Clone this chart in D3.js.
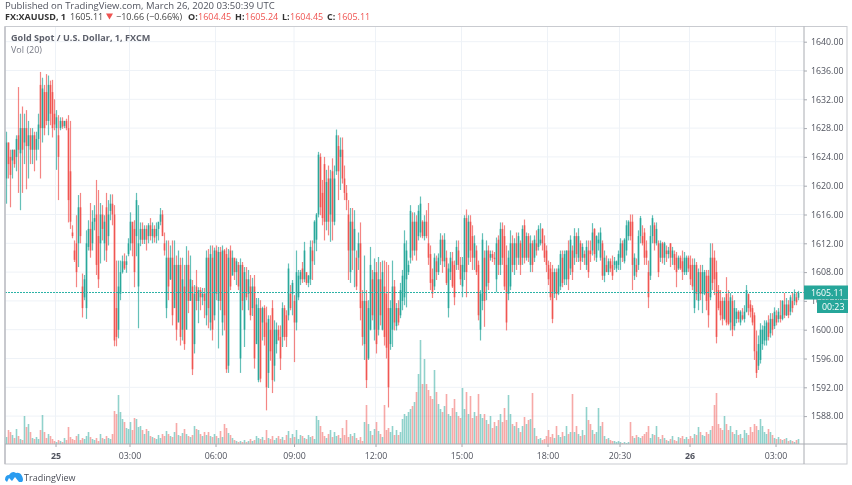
<!DOCTYPE html>
<html>
<head>
<meta charset="utf-8">
<script src="https://d3js.org/d3.v7.min.js"></script>
<style>
  html, body { margin: 0; padding: 0; background: #fff; }
  svg { display: block; }
  text { font-family: "Open Sans", sans-serif; }
</style>
</head>
<body>
<svg id="chart" width="852" height="485"></svg>
<script>
const highs = [
1627.5,1626,1625,1625,1625,1627,1633.7,1630,1631,1630,1630.5,1629,1628,1628,1627.5,1627.5,1630,1635.8,1635,1634,
1635.5,1635.3,1634.6,1634.7,1632,1630.5,1629.8,1629.5,1629.5,1629,1629.3,1629.8,1629,1614.5,1612.4,1615.9,1618.7,1619,1607.8,1607.6,
1613.8,1615.2,1617.6,1616.6,1617.3,1620.8,1619.4,1617.6,1617.3,1615.9,1619,1618,1618.8,1618.8,1617.3,1609.6,1609.6,1609.6,1610.3,1610.6,
1610.3,1612.7,1616.3,1614.5,1615.2,1619,1617.3,1614.9,1614.9,1614.5,1614.5,1614.8,1615.5,1614.9,1614.5,1614.9,1614.5,1616.9,1616.6,1613.5,
1612.4,1612.4,1611.7,1612.4,1612.4,1610.3,1611,1610,1610,1609,1611.6,1611,1610.3,1606.9,1606.2,1608.3,1605.9,1605.9,1605.8,1605.8,
1611,1611.2,1611.7,1611.7,1611.4,1611.7,1611.5,1611.5,1611.7,1611.2,1611.4,1611.2,1611.7,1611,1609.9,1609.9,1609.4,1609.9,1609.4,1608.7,
1608.7,1608.3,1607.6,1607.2,1607.6,1604.4,1604.4,1604.1,1603.2,1603.4,1603.2,1602,1602,1604.1,1601.3,1601,1600.6,1600.6,1603.8,1603.4,
1602.7,1609.2,1606.2,1606.9,1604.8,1611,1608.3,1608.3,1609.4,1612.2,1607.6,1607.6,1612.4,1612.4,1615.2,1616.2,1624.7,1624.5,1620.8,1624,
1622.2,1622.8,1622.2,1623.8,1622.8,1627.8,1627,1626.7,1626.7,1622.8,1620.1,1618,1616.9,1616.9,1616.6,1611,1613.5,1614.9,1605.5,1610.3,
1605.5,1604.1,1611.5,1608.3,1609.9,1609.4,1610.1,1609.4,1609.6,1609.6,1609.4,1609,1604.1,1609.6,1606.9,1603.7,1604.1,1606.5,1608.3,1613.8,
1612.4,1609.6,1617.3,1616.3,1616.3,1615.9,1617.3,1618.5,1615.2,1615.9,1616.6,1617.6,1611.7,1608.5,1610.6,1610.3,1610.6,1613.4,1613.1,1613.4,
1611,1609.2,1610.8,1610.8,1609.6,1612.4,1612.4,1610.1,1610.1,1615.9,1616.7,1615.9,1615.9,1614.5,1613.1,1611.7,1609.6,1605.5,1613.4,1611,
1612.4,1611.7,1611,1611,1610.8,1612.8,1613.1,1614.9,1614.9,1614.5,1611.7,1611,1613.8,1613.1,1612.7,1613.5,1613.5,1612.4,1614.5,1615.3,
1613.5,1613.4,1613.1,1612.4,1613.1,1613.8,1614.5,1614.8,1614.1,1613.1,1611.7,1609.6,1609.4,1609,1608.5,1608.5,1609,1611,1611,1611,
1611,1612.4,1613.1,1611.7,1614.1,1613.5,1614.1,1612.4,1612,1611,1612.4,1612.4,1612.4,1614.8,1614.1,1613.1,1613.5,1614.2,1612.4,1611,
1610.3,1609.9,1609.9,1610.3,1610.1,1609.6,1611,1612.7,1612.4,1612.7,1615.2,1615.2,1616,1616,1610.6,1609.9,1613.8,1615.8,1614.5,1614.1,
1612.4,1609.6,1614.5,1615.9,1614.9,1614.9,1612.4,1612.4,1612.2,1612.2,1611.7,1611.5,1612,1611.5,1611,1610.8,1610.3,1610.3,1611,1610.8,
1610.3,1610.3,1610.3,1609.9,1609.9,1609.4,1608.5,1609,1609,1608.3,1608.3,1608.3,1612,1612,1611,1609.6,1606.2,1605.5,1604.5,1604.5,
1607.3,1605.5,1605.1,1604.8,1604.1,1603,1602.7,1602.7,1603,1603.4,1606.2,1604.8,1604.1,1603.4,1602.4,1599.9,1599.2,1600.9,1600.6,1601.3,
1601.3,1602,1602.3,1602.3,1603.1,1602.7,1603,1604.1,1604.1,1605.1,1604.4,1604.1,1604.8,1605.2,1605.6,1605.2,1605.4
]
const lows = [
1617.5,1621,1617,1621,1622.5,1622,1619,1616.6,1619,1623,1619.5,1621,1623,1623,1622,1623.5,1625,1621,1626,1627,
1628.4,1627,1628.4,1626.7,1627.7,1622.2,1618,1627.7,1627.9,1628,1627.7,1614.9,1614,1612.7,1609.4,1605.9,1608.7,1612,1601.7,1604.1,
1601.5,1611,1610,1611,1613.8,1607.6,1605.8,1609.2,1612.4,1609.6,1609.4,1611.7,1615.2,1614.5,1597.7,1597.7,1598.8,1604.1,1607.8,1608.3,
1607.9,1610.2,1611,1610.2,1605.9,1610.2,1600.2,1611.6,1611.9,1611.9,1611,1612,1612.4,1612,1612.1,1612,1612.4,1614.5,1613.5,1610.3,
1601.6,1604.1,1606.9,1600.6,1604.1,1598.5,1601.3,1597.8,1598.5,1597.2,1604.1,1602.3,1604.1,1593.7,1596.7,1602.7,1600.9,1602.7,1603.4,1601.6,
1600.6,1600.2,1599.9,1598.5,1601.3,1604.1,1597.4,1602.7,1599.2,1599.9,1594,1594,1605.5,1607.6,1606.9,1606.2,1605.5,1594,1602.7,1597.6,
1604.1,1602.7,1601.3,1601.9,1594.6,1598.5,1592.7,1592.7,1598.5,1597.8,1588.8,1591.9,1595.7,1591.2,1592.8,1596.7,1599.2,1594.4,1597.6,1598.5,
1597.6,1601.3,1602.7,1602,1595.5,1599.9,1604.1,1606.2,1606.5,1606.6,1606.2,1605.9,1606.2,1606.9,1609,1610.9,1615.6,1615.9,1614.5,1612.4,
1613.8,1613.1,1612.2,1612.4,1614.5,1621.5,1618,1619.4,1620.3,1618,1616.6,1606.9,1606.5,1608.3,1605.9,1605.5,1608.3,1601.3,1597.8,1595.8,
1591.9,1595.8,1599.9,1601.3,1598.5,1596.7,1599.2,1600.6,1599.9,1597.8,1596,1589.2,1597.2,1597.6,1599.9,1599.9,1600.6,1601.6,1602.7,1603.4,
1603.1,1607.6,1609.2,1609.6,1610.3,1609.6,1612.4,1612.8,1612.7,1612.4,1612.7,1609,1605.5,1604.4,1605.5,1606.9,1607.6,1609,1607.9,1608.7,
1606.2,1601.7,1606.9,1605.8,1603.4,1608.3,1608.3,1606.2,1604.5,1606.9,1604.5,1609,1609.4,1608.3,1608.3,1607.6,1601.3,1598.5,1602.7,1600.4,
1604.1,1605.5,1609.6,1609.4,1609,1605.2,1607.6,1607.6,1609,1605.5,1599.9,1604.1,1605.5,1608,1607.6,1608.3,1609,1607.6,1609,1609.2,
1609.6,1609.4,1608,1608,1609.4,1610.3,1611,1611.7,1611,1609.4,1608,1606.2,1604.1,1600.9,1604.4,1604.1,1604.8,1605.5,1605.9,1606.2,
1606.2,1605.5,1607.6,1606.9,1609,1609.4,1609.4,1608.3,1609.4,1609,1608.3,1607.2,1609.4,1610.3,1609.6,1609.4,1611,1609.6,1606.9,1606.6,
1608,1607.6,1608,1606.9,1608.3,1608,1608.3,1608.3,1609.4,1609.2,1610.3,1612.4,1612.4,1605.5,1606.9,1607.3,1608.3,1612,1611.7,1609,
1609,1603,1606.9,1612,1611,1611.7,1607.3,1609.4,1609.2,1609,1609.4,1609.9,1608.7,1609,1608.3,1605.9,1608.3,1608.3,1606.9,1607.6,
1607.6,1608,1606.2,1605.5,1602.3,1604.1,1602.7,1604.1,1602.3,1604.8,1602.7,1600.3,1604.1,1605.5,1604.8,1598.1,1602.7,1601.3,1600.6,1601.3,
1600.6,1600.6,1599.9,1599.1,1599.9,1600.9,1601,1600.6,1601.3,1601,1602.4,1602,1601.7,1600.6,1595.8,1593.3,1594.4,1595.3,1597.2,1597.8,
1597.8,1598.5,1598.9,1599.2,1600.1,1600.6,1601,1601,1601.3,1601.6,1601.9,1601.6,1602,1602.4,1603.4,1603.4,1604.1
]
const opens = [
1621,1626,1624,1623.5,1625,1624,1627,1624.5,1628,1626,1628,1625.5,1627,1625,1627,1625,1626.5,1634,1628,1633,
1633,1629,1634,1633,1630,1628,1627,1628,1629,1628.3,1629,1628,1622,1613.5,1611,1612,1612,1617,1606,1604.5,
1603,1611.5,1614,1612,1615,1616,1613,1612,1616,1612,1617,1613,1616.5,1617.5,1616,1603,1600,1605,1608,1609.5,
1609,1610.5,1612,1615,1614,1613,1606,1612.5,1614,1612.5,1614,1613,1614.5,1613,1614,1613,1614,1615,1616,1612,
1603,1610,1607,1610,1603,1609,1601,1609,1600,1606,1600,1609,1604,1606,1598,1606,1604,1605.5,1604.5,1605,
1602,1610,1601,1610,1602,1611,1604,1610.8,1601,1611,1610.5,1595,1611,1607.5,1610,1608,1609,1596,1609,1600,
1607,1605,1606,1603,1606,1598,1593,1603,1601,1603,1601,1594,1600,1603,1595,1598,1600,1599,1599,1603,
1602,1602,1605,1605,1604,1601,1604.5,1607,1608.5,1607,1608,1606.5,1607,1611,1612,1612.5,1616,1624,1619,1623,
1615,1621,1616,1622,1615,1622,1625.5,1624,1625,1621,1619,1616,1608,1615,1611,1610,1610,1612,1604,1598,
1604,1596,1600,1607,1600,1608,1600,1607,1600,1606,1605,1603,1598,1600,1606,1600.5,1603,1602,1604,1604.5,
1607,1608,1610,1615,1611,1615,1613,1613.5,1615,1613,1615,1612,1610.5,1607,1606,1609.5,1608,1610,1612.5,1609.5,
1610,1603,1608,1609.5,1609,1609,1611,1609,1606,1608,1615.5,1610,1615,1613,1610,1611,1609,1600,1604,1610,
1606,1611,1610,1610.5,1610,1607,1612.5,1609,1614,1613,1609,1605,1606,1612,1609,1612,1610,1612,1610,1614.5,
1610,1613,1609,1612,1610,1612,1611.5,1612,1614,1612,1611,1609,1608.5,1608,1605,1608,1605,1606,1610,1607,
1607,1611,1608.5,1611,1610,1613,1610,1612,1610,1610.5,1609,1611,1611,1611,1614,1610,1612,1610,1612,1607.5,
1609,1608,1609.5,1609,1609,1608.5,1609,1610,1612,1609.5,1611,1613,1615,1615,1607.5,1609,1609,1613,1613,1613.5,
1611,1608,1607.5,1613,1614.5,1612,1612,1610,1612,1610,1611,1610.5,1612,1610,1610.5,1610,1608.5,1610,1609.5,1608,
1608,1610,1609,1609,1603,1609,1604,1608,1605,1605,1607.5,1607.5,1604.5,1610,1610,1608,1605.5,1604,1604,1601.5,
1605,1604,1601,1604,1600.5,1601.5,1602.5,1601,1602,1601.5,1602.5,1605,1603.5,1603,1602,1597,1595,1595.8,1598,1598.5,
1598.5,1601,1599.5,1601.5,1600.5,1602,1601.5,1602,1601.5,1603.5,1602,1603.5,1602.5,1604,1604,1604.5,1604.45
]
const closes = [
1626,1623,1621.5,1625,1623,1626.5,1625,1628,1625,1628,1625.5,1627,1625,1627,1625,1626.5,1628.5,1628,1633.5,1628,
1629,1634,1630,1628,1628.5,1629.5,1624,1629,1628.2,1629,1628,1618,1615,1613,1609.7,1608,1617,1613,1603,1607,
1612,1614,1611,1615,1615.5,1609,1607,1616,1614,1615,1611,1616,1617.5,1616,1598.5,1599,1606,1608,1609.5,1608.5,
1609.5,1612,1615,1612,1608,1618,1612,1614,1612.5,1614,1612.5,1614.5,1613,1614,1612.8,1614,1615,1616,1613,1611,
1610,1606,1610,1602,1609,1600,1609,1599,1607,1598,1609,1604,1607,1594.5,1605,1604,1605.5,1604.5,1605,1604,
1610,1603,1610.5,1600,1611,1605,1610.8,1604,1611,1602,1594.5,1610,1606,1610,1608,1609.5,1606,1609,1604,1608,
1604.5,1607,1602,1606,1596,1603.5,1603,1593.2,1603,1599,1592,1601.5,1597,1593,1600,1600,1598.5,1596,1603,1599,
1599,1608.5,1603,1606.5,1601,1608,1607.5,1608,1607,1611,1606.5,1607.5,1611.5,1609.5,1615,1616,1624.3,1617,1615.5,1615,
1620.5,1615,1621,1615,1621,1627,1622,1625,1621,1619,1618,1611,1615,1611,1614,1606,1612,1603,1599,1604,
1593,1603,1609,1602,1608,1598,1607,1602,1608,1599,1597.5,1592,1603,1606,1601,1603,1601,1605.5,1607.5,1612,
1611,1609,1616.5,1611,1615,1611,1616.5,1617.5,1613,1615,1613,1610,1606.5,1605,1610,1608,1610,1612.5,1609.5,1612.5,
1606.5,1608.5,1610,1606,1604.5,1611.5,1609,1607,1609,1615.5,1608,1615,1611,1610,1612,1608,1602,1605,1612.5,1604,
1611,1606.5,1610.5,1610,1609.8,1612,1609,1614,1610,1606,1601,1610,1612,1609,1612,1610,1613,1609,1614,1610,
1613,1610,1612,1609,1612.5,1611,1614,1612.5,1612,1610,1609,1607,1604.5,1601.5,1608,1605,1608.5,1610.5,1606.5,1610.5,
1611,1607,1612.5,1608,1613,1610.5,1613,1609.5,1611.5,1610,1611.5,1608,1610.5,1613.5,1610.5,1613,1612.5,1613.5,1607.5,1610,
1608,1609.5,1608.5,1607.5,1609.5,1609.5,1610.5,1612,1610,1612.5,1614.5,1615,1613,1609,1610,1608,1613,1615.5,1612,1610,
1610,1604.5,1613,1615.5,1612,1614,1608,1612,1610,1612,1610.5,1611,1610,1611,1609,1608,1610,1608.5,1608,1610,
1610,1608.5,1607,1606,1609,1605,1608,1605,1608,1608,1604,1602,1610,1606.5,1607,1599,1603,1602,1601.5,1604,
1601,1600.8,1604.5,1600,1603,1602.5,1601.5,1602.5,1601.5,1602.5,1605.5,1603,1602.5,1601,1597,1594,1598,1600,1600,1600.5,
1601,1599,1601.5,1600,1602.5,1601,1602.5,1601.5,1604,1602,1603.5,1602,1604.5,1603,1605,1603.8,1605.11
]
const volumes = [
7,14,12,9,6,15,8,5,4,28,17,20,12,6,5,7,5,14,29,12,
6,10,8,5,3,2,4,3,2,6,4,17,7,5,4,8,10,4,6,5,
8,12,7,5,4,6,3,10,6,5,8,6,5,10,33,30,49,32,25,22,
16,15,22,14,26,25,17,18,14,10,15,13,8,7,6,5,9,6,10,8,
13,10,8,7,12,21,9,8,11,15,10,8,7,9,18,15,14,10,8,12,
9,12,8,7,10,8,6,13,7,20,16,11,9,6,4,3,2,3,2,4,
2,3,5,3,4,8,6,5,7,4,14,6,5,8,4,6,8,5,7,4,
9,13,6,10,7,14,5,9,8,6,5,9,7,8,5,28,24,18,12,8,
6,10,14,7,12,8,9,6,16,9,24,7,10,8,11,6,4,7,3,22,
39,20,13,9,15,22,13,10,7,39,14,16,12,18,9,14,9,12,25,30,
28,32,35,38,42,52,70,104,60,85,60,54,48,45,74,52,40,35,32,38,
50,30,28,36,45,32,28,26,56,35,52,30,48,26,32,28,50,30,26,30,
24,20,28,16,22,18,24,30,22,36,24,49,30,20,18,22,16,12,18,27,
20,24,25,51,16,8,5,6,4,5,8,14,7,10,6,18,9,7,12,8,
18,10,12,50,12,18,10,8,14,9,37,24,20,14,10,12,36,18,22,8,
5,6,4,3,3,2,3,2,1,2,1,2,22,8,6,9,7,6,8,10,
12,18,6,10,9,18,7,5,9,6,4,3,5,8,4,3,7,6,8,5,
7,5,8,6,10,9,17,12,9,8,12,10,14,18,39,51,20,16,14,28,
20,14,18,12,10,14,9,10,6,14,11,9,17,12,20,18,14,25,18,12,
10,15,12,9,6,5,7,5,4,5,6,3,4,3,2,4,5
]

const priceTicks = [1588,1592,1596,1600,1604,1608,1612,1616,1620,1624,1628,1632,1636,1640]
const timeLabels = ['25','03:00','06:00','09:00','12:00','15:00','18:00','20:30','26','03:00']
const timeBars = [24.5,61.5,104.5,143.75,184.5,227.5,270.5,306.5,341.5,384.5]
const boldLabels = ['25','26']
const lastPrice = 1605.11

const upColor = '#26a69a'
const downColor = '#ef5350'
const gridColor = '#eef2f7'
const axisColor = '#a9acb2'
const textColor = '#50535e'

const svg = d3.select('#chart')

// the reference is a downscaled screenshot, so soften the dense marks a little
svg.append('defs').append('filter')
  .attr('id', 'soft')
  .append('feGaussianBlur')
  .attr('stdDeviation', '0.45 0.2')

const x = d3.scaleLinear().domain([0, closes.length - 1]).range([6.5, 798.5])
const y = d3.scaleLinear().domain([1588, 1640]).range([416.1, 41.7])
const yVol = d3.scaleLinear().domain([0, 104]).range([444, 340])

// grid
svg.append('g')
  .selectAll('line')
  .data(priceTicks)
  .join('line')
  .attr('x1', 5).attr('x2', 804)
  .attr('y1', d => y(d)).attr('y2', d => y(d))
  .attr('stroke', gridColor).attr('stroke-width', 1)

svg.append('g')
  .selectAll('line')
  .data(timeBars)
  .join('line')
  .attr('x1', d => x(d)).attr('x2', d => x(d))
  .attr('y1', 27).attr('y2', 444)
  .attr('stroke', gridColor).attr('stroke-width', 1)

// volume
svg.append('g')
  .attr('filter', 'url(#soft)')
  .selectAll('rect')
  .data(volumes)
  .join('rect')
  .attr('x', (d, i) => x(i) - 0.8)
  .attr('width', 1.6)
  .attr('y', d => yVol(d))
  .attr('height', d => yVol(0) - yVol(d))
  .attr('fill', (d, i) => closes[i] >= opens[i] ? upColor : downColor)
  .attr('opacity', 0.5)

// wicks and bodies
const bars = d3.range(closes.length)
const candles = svg.append('g').attr('filter', 'url(#soft)')

candles.append('g')
  .selectAll('line')
  .data(bars)
  .join('line')
  .attr('x1', i => x(i)).attr('x2', i => x(i))
  .attr('y1', i => y(highs[i])).attr('y2', i => y(lows[i]))
  .attr('stroke', i => closes[i] >= opens[i] ? upColor : downColor)
  .attr('stroke-width', 1.2)
  .attr('opacity', 0.7)

candles.append('g')
  .selectAll('rect')
  .data(bars)
  .join('rect')
  .attr('x', i => x(i) - 0.8)
  .attr('width', 1.6)
  .attr('y', i => y(Math.max(opens[i], closes[i])))
  .attr('height', i => Math.max(1, Math.abs(y(opens[i]) - y(closes[i]))))
  .attr('fill', i => closes[i] >= opens[i] ? upColor : downColor)
  .attr('opacity', 0.95)

// last price line
svg.append('line')
  .attr('x1', 5).attr('x2', 804)
  .attr('y1', Math.floor(y(lastPrice)) + 0.5).attr('y2', Math.floor(y(lastPrice)) + 0.5)
  .attr('stroke', '#2cb3a6').attr('stroke-width', 1)
  .attr('stroke-dasharray', '2 1')

// frame
const frame = svg.append('g').attr('fill', 'none')
frame.append('rect').attr('x', 5).attr('y', 26.5).attr('width', 842).attr('height', 437.5).attr('stroke', '#c9cbd0').attr('stroke-width', 1)
frame.append('line').attr('x1', 5).attr('x2', 5).attr('y1', 26.5).attr('y2', 464).attr('stroke', '#bfc1c6').attr('stroke-width', 1.5)

// axes
const yAxis = d3.axisRight(y).tickValues(priceTicks).tickFormat(d3.format('.2f')).tickSize(3).tickPadding(4)
const yG = svg.append('g').attr('transform', 'translate(804,0)').call(yAxis)
yG.select('.domain').attr('d', 'M0,26.5V464').attr('stroke', axisColor)
yG.selectAll('.tick line').attr('stroke', axisColor)
yG.selectAll('text').attr('fill', textColor).attr('font-size', 8.8).style('font-family', '"Open Sans", sans-serif')

const xAxis = d3.axisBottom(x).tickValues(timeBars).tickFormat((d, i) => timeLabels[i]).tickSize(3).tickPadding(6)
const xG = svg.append('g').attr('transform', 'translate(0,444)').call(xAxis)
xG.select('.domain').attr('d', 'M5,0H847').attr('stroke', axisColor)
xG.selectAll('.tick line').attr('stroke', axisColor)
xG.selectAll('text')
  .attr('fill', textColor)
  .attr('font-size', 8.8)
  .attr('font-weight', (d, i) => boldLabels.includes(timeLabels[i]) ? 700 : 400)
  .style('font-family', '"Open Sans", sans-serif')

// price tags
svg.append('rect').attr('x', 804).attr('y', 285.5).attr('width', 44).attr('height', 14).attr('fill', upColor)
svg.append('text').attr('x', 811).attr('y', y(lastPrice)).attr('dy', '0.35em').attr('fill', '#fff').attr('font-size', 8.8).text(d3.format('.2f')(lastPrice))
svg.append('rect').attr('x', 817).attr('y', 300).attr('width', 31).attr('height', 13).attr('fill', upColor)
svg.append('text').attr('x', 822).attr('y', 306.5).attr('dy', '0.35em').attr('fill', '#fff').attr('font-size', 8.8).text('00:23')

// header
svg.append('text').attr('x', 5).attr('y', 8.5).attr('fill', textColor).attr('font-size', 9.5).text('Published on TradingView.com, March 26, 2020 03:50:39 UTC')

const headerParts = [
  { x: 5, text: 'FX:XAUUSD, 1', color: '#333', bold: true },
  { x: 70, text: '1605.11', color: '#444' },
  { x: 116, text: '\u221210.66 (\u22120.66%)', color: '#444' },
  { x: 188, text: 'O:', color: '#333', bold: true },
  { x: 198, text: '1604.45', color: downColor },
  { x: 235, text: 'H:', color: '#333', bold: true },
  { x: 245, text: '1605.24', color: downColor },
  { x: 282, text: 'L:', color: '#333', bold: true },
  { x: 290, text: '1604.45', color: downColor },
  { x: 327, text: 'C:', color: '#333', bold: true },
  { x: 337, text: '1605.11', color: downColor }
]
svg.append('g')
  .selectAll('text')
  .data(headerParts)
  .join('text')
  .attr('x', d => d.x)
  .attr('y', 20)
  .attr('fill', d => d.color)
  .attr('font-size', 9)
  .attr('font-weight', d => d.bold ? 700 : 400)
  .text(d => d.text)
svg.append('path').attr('d', 'M106,13.5H113L109.5,19.5Z').attr('fill', downColor)

// legend
svg.append('text').attr('x', 11).attr('y', 41).attr('fill', '#5d606b').attr('font-size', 9.1).attr('font-weight', 700).text('Gold Spot / U.S. Dollar, 1, FXCM')
svg.append('text').attr('x', 11).attr('y', 53).attr('fill', '#787b86').attr('font-size', 9).text('Vol (20)')

// logo
svg.append('path')
  .attr('d', 'M5,480 Q5,475 9,475 Q12,470 16,473 Q20,472 22,476 Q24,480 22,482 L19,482 L15,477 L12,481 L9,478 L7,482 Z')
  .attr('fill', '#2a9cf0')
svg.append('text').attr('x', 24).attr('y', 480.5).attr('fill', '#4a4d57').attr('font-size', 9).text('TradingView')
</script>
</body>
</html>
